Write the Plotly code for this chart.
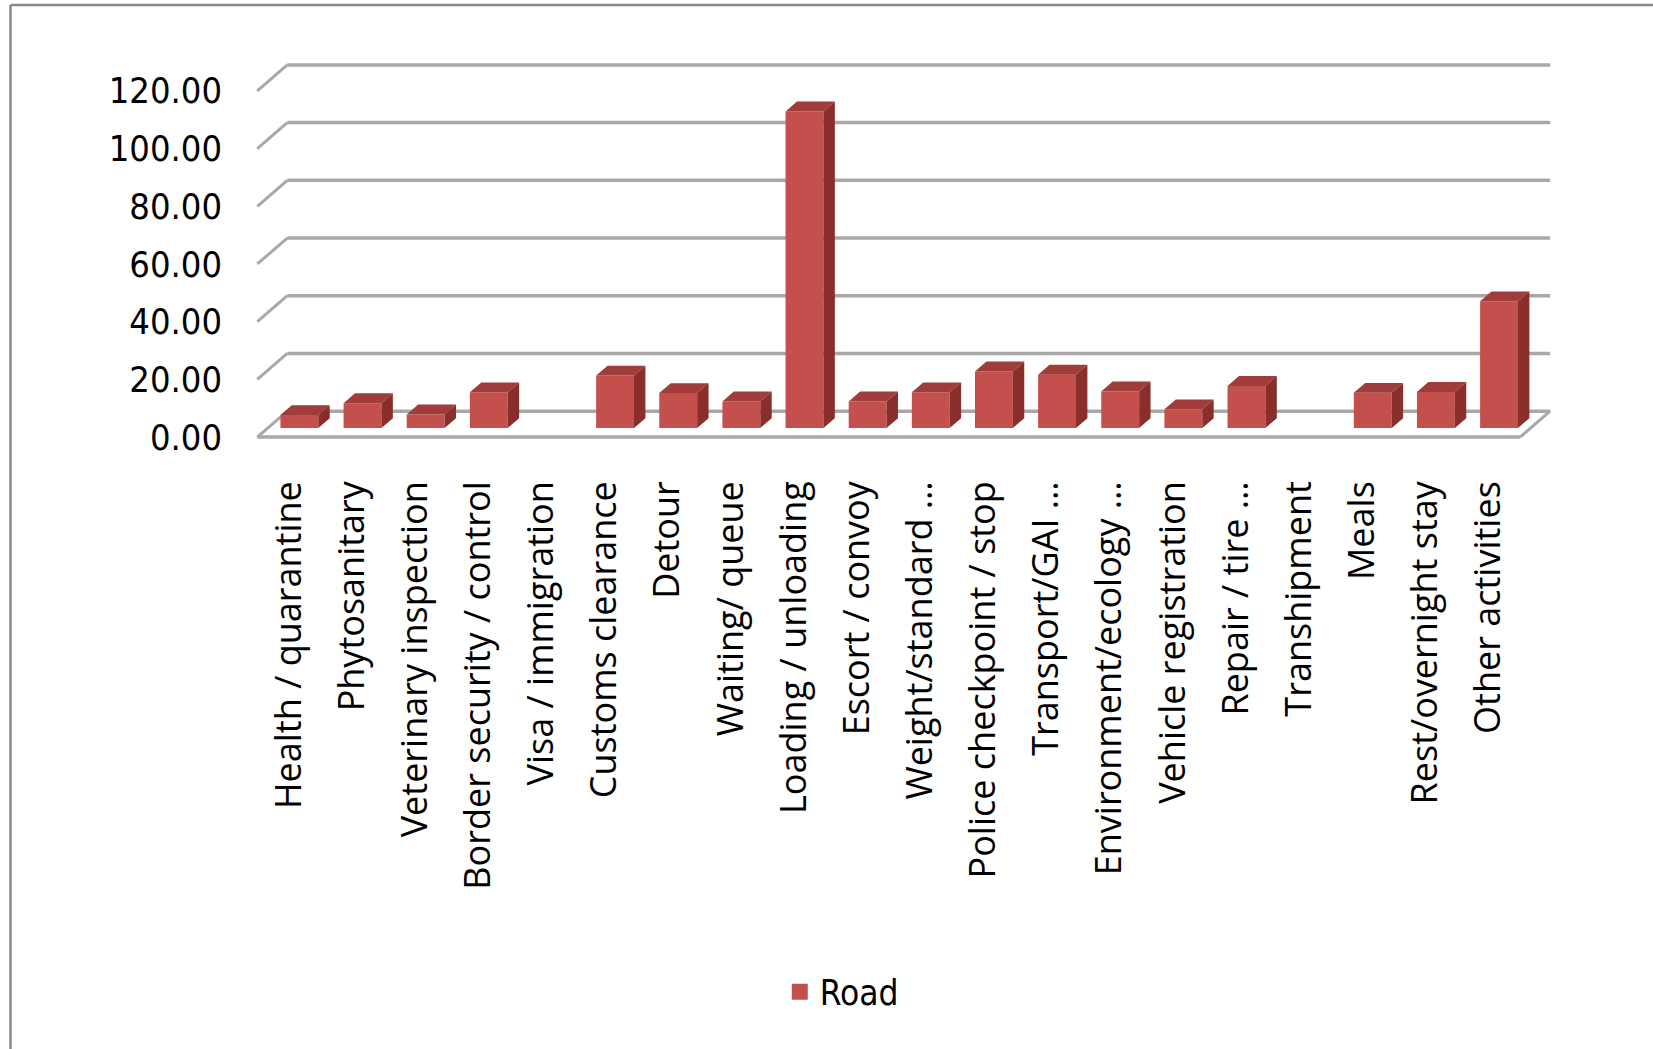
import plotly.graph_objects as go

categories = [
    "Health / quarantine", "Phytosanitary", "Veterinary inspection",
    "Border security / control", "Visa / immigration", "Customs clearance",
    "Detour", "Waiting/ queue", "Loading / unloading", "Escort / convoy",
    "Weight/standard …", "Police checkpoint / stop", "Transport/GAI …",
    "Environment/ecology …", "Vehicle registration", "Repair / tire …",
    "Transhipment", "Meals", "Rest/overnight stay", "Other activities",
]
road = [4.5, 8.6, 4.7, 12.4, 0.0, 18.2, 12.1, 9.2, 109.7, 9.2,
        12.4, 19.6, 18.5, 12.7, 6.5, 14.6, 0.0, 12.2, 12.5, 43.9]
y_ticks = [0, 20, 40, 60, 80, 100, 120]
y_tick_labels = ["0.00", "20.00", "40.00", "60.00", "80.00", "100.00", "120.00"]

# oblique 3D projection parameters (in data units)
DEPTH_X, DEPTH_Y = 0.475, 9.0      # full floor depth
F0, F1 = 0.35, 0.73                 # bar front / back depth fractions
BAR_W = 0.60

FRONT = "#C4504D"
TOP = "#A03C39"
SIDE = "#8A2E2C"
GRID = "#A8A8A8"

n = len(categories)
xc = [i + 0.5 for i in range(n)]

fig = go.Figure()

# front faces
dx0, dy0 = F0 * DEPTH_X, F0 * DEPTH_Y
ddx, ddy = (F1 - F0) * DEPTH_X, (F1 - F0) * DEPTH_Y
vis_x = [x + dx0 for x, v in zip(xc, road) if v > 0]
vis_v = [v for v in road if v > 0]
fig.add_trace(go.Bar(
    x=vis_x, y=vis_v, base=dy0, width=BAR_W,
    marker=dict(color=FRONT, line=dict(width=0)),
    showlegend=False, hoverinfo="skip",
))

# top & side faces derived from the values
top_x, top_y, side_x, side_y = [], [], [], []
for x, v in zip(vis_x, vis_v):
    xl, xr = x - BAR_W / 2, x + BAR_W / 2
    yt = v + dy0
    top_x += [xl, xr, xr + ddx, xl + ddx, xl, None]
    top_y += [yt, yt, yt + ddy, yt + ddy, yt, None]
    side_x += [xr, xr, xr + ddx, xr + ddx, xr, None]
    side_y += [dy0, yt, yt + ddy, dy0 + ddy, dy0, None]
fig.add_trace(go.Scatter(x=top_x, y=top_y, fill="toself", mode="lines",
                         line=dict(width=0, color=TOP), fillcolor=TOP,
                         showlegend=False, hoverinfo="skip"))
fig.add_trace(go.Scatter(x=side_x, y=side_y, fill="toself", mode="lines",
                         line=dict(width=0, color=SIDE), fillcolor=SIDE,
                         showlegend=False, hoverinfo="skip"))

# legend entry
fig.add_trace(go.Scatter(x=[None], y=[None], mode="markers", name="Road",
                         marker=dict(symbol="square", size=22, color=FRONT)))

# walls / floor gridlines
shapes = []
for g in y_ticks:
    shapes.append(dict(type="line", xref="x", yref="y", x0=0, y0=g,
                       x1=DEPTH_X, y1=g + DEPTH_Y, layer="below",
                       line=dict(color=GRID, width=3)))
    shapes.append(dict(type="line", xref="x", yref="y", x0=DEPTH_X, y0=g + DEPTH_Y,
                       x1=n + DEPTH_X, y1=g + DEPTH_Y, layer="below",
                       line=dict(color=GRID, width=3.5)))
shapes.append(dict(type="line", xref="x", yref="y", x0=0, y0=0, x1=n, y1=0,
                   layer="below", line=dict(color=GRID, width=3.5)))
shapes.append(dict(type="line", xref="x", yref="y", x0=n, y0=0, x1=n + DEPTH_X,
                   y1=DEPTH_Y, layer="below", line=dict(color=GRID, width=3)))
# outer frame (left & top edges)
shapes.append(dict(type="line", xref="paper", yref="paper", x0=-0.184, y0=1.151,
                   x1=1.2, y1=1.151, line=dict(color="#888888", width=2.5)))
shapes.append(dict(type="line", xref="paper", yref="paper", x0=-0.184, y0=1.151,
                   x1=-0.184, y1=-2.0, line=dict(color="#888888", width=2.5)))

NARROW = "Liberation Sans Narrow, Arial Narrow, DejaVu Sans Condensed, sans-serif"

fig.update_layout(
    width=1653, height=1049,
    margin=dict(l=251, r=95, t=62, b=609),
    paper_bgcolor="white", plot_bgcolor="white",
    shapes=shapes,
    showlegend=True,
    legend=dict(orientation="h", x=0.452, y=-1.46, xanchor="center", yanchor="middle",
                font=dict(family=NARROW, size=35, color="black"),
                itemsizing="trace"),
    xaxis=dict(range=[-0.1, n + 0.6], tickmode="array", tickvals=xc,
               ticktext=categories, tickangle=-90, showgrid=False, zeroline=False,
               showline=False, ticks="", ticklabelstandoff=33,
               tickfont=dict(family="Open Sans, sans-serif", size=36, color="black"),
               fixedrange=True),
    yaxis=dict(range=[-1, 130], tickmode="array", tickvals=y_ticks,
               ticktext=y_tick_labels, showgrid=False, zeroline=False,
               showline=False, ticks="", ticklabelstandoff=28,
               tickfont=dict(family=NARROW, size=36, color="black"),
               fixedrange=True),
)

fig.write_html("out.html")
